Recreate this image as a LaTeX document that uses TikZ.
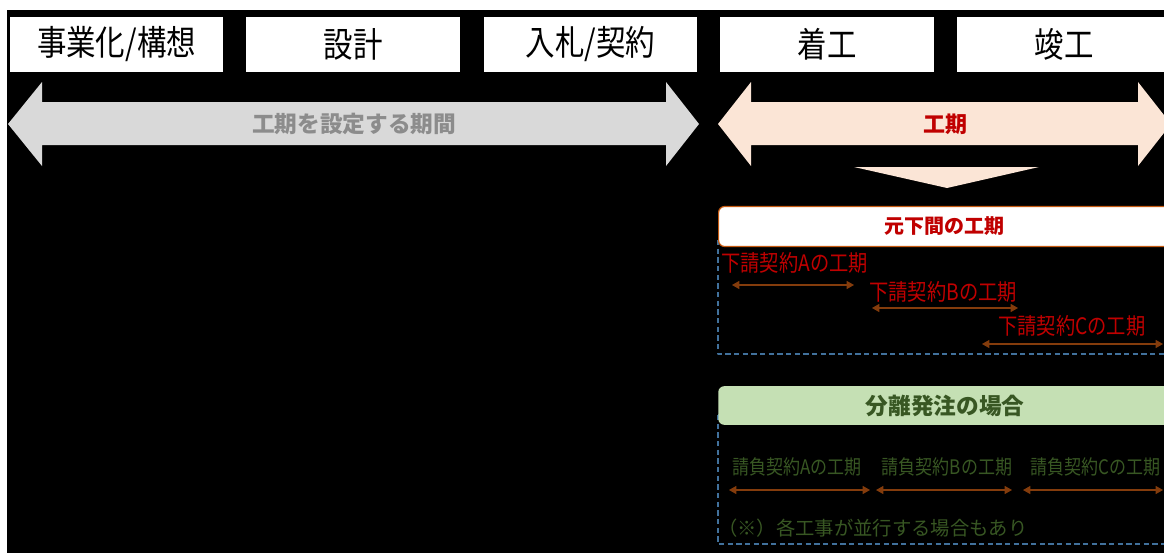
\documentclass[tikz,border=0pt]{standalone}
\usepackage{fontspec}
\setmainfont{Noto Sans CJK JP}
\newfontfamily\narrowjp{Noto Sans CJK JP}[FakeStretch=0.85]
\usetikzlibrary{arrows.meta,positioning}
\definecolor{peach}{HTML}{FBE5D6}
\definecolor{shaftgray}{HTML}{D9D9D9}
\definecolor{textgray}{HTML}{8C8C8C}
\definecolor{darkred}{HTML}{C00000}
\definecolor{rust}{HTML}{843C0C}
\definecolor{edgeorange}{HTML}{C55A11}
\definecolor{leaf}{HTML}{C5E0B4}
\definecolor{forest}{HTML}{385723}
\definecolor{dashblue}{HTML}{41719C}
\tikzset{
  phase/.style={fill=white, minimum width=160pt, minimum height=41pt, inner sep=0pt, font=\narrowjp\fontsize{26}{30}\selectfont},
  headbox/.style={rounded corners=4.5pt, minimum height=30pt, inner sep=0pt, anchor=west, font=\bfseries\fontsize{15}{18}\selectfont},
  sublabel/.style={text=darkred, inner sep=0pt, anchor=west, font=\narrowjp\fontsize{17}{20}\selectfont},
  splitlabel/.style={text=forest, inner sep=0pt, font=\narrowjp\fontsize{15}{18}\selectfont},
  period/.style={<->, rust, line width=0.9pt},
  frame/.style={dashblue, dash pattern=on 4pt off 2.5pt, line width=0.9pt}
}
\begin{document}
\begin{tikzpicture}[x=0.75pt, y=-0.75pt, line join=round, >={Triangle[length=5.5pt,width=6pt]}]
\def\xmax{1164}
\def\ymax{553}
\useasboundingbox (0,0) rectangle (\xmax,\ymax);
\clip (0,0) rectangle (\xmax,\ymax);
\fill[white] (0,0) rectangle (\xmax,\ymax);
\fill[black] (7,10) rectangle (\xmax,\ymax);
\node[phase] (plan) at (116.5,44.5) {事業化/構想};
\node[phase] (design) at (353,44.5) {設計};
\node[phase] (bid) at (590.5,44.5) {入札/契約};
\node[phase] (start) at (827,44.5) {着工};
\node[phase] (finish) at (1064,44.5) {竣工};
\fill[shaftgray] (8,124) -- (42,82) -- (42,102) -- (666,102) -- (666,82) -- (699,124) -- (666,166) -- (666,145) -- (42,145) -- (42,166) -- cycle;
\node[text=textgray, font=\bfseries\fontsize{17}{20}\selectfont] (setting) at (354,124) {工期を設定する期間};
\fill[peach] (718,124) -- (751,82) -- (751,102) -- (1138,102) -- (1138,82) -- (1171,124) -- (1138,166) -- (1138,145) -- (751,145) -- (751,166) -- cycle;
\node[text=darkred, font=\bfseries\fontsize{16.5}{20}\selectfont] (term) at (945,124) {工期};
\fill[peach] (854,167) -- (1039,167) -- (947,188) -- cycle;
\draw[frame] (718,240) rectangle (1175,354);
\draw[frame] (718,415) rectangle (1175,544);
\node[headbox, draw=edgeorange, fill=white, text=darkred, line width=0.9pt, minimum width=339pt] (prime) at (718,226.5) {元下間の工期};
\node[headbox, fill=leaf, text=forest, minimum width=340.5pt, minimum height=29pt, font=\bfseries\fontsize{17}{20}\selectfont] (split) at (718,405.5) {分離発注の場合};
\node[sublabel] (subA) at (721,263) {下請契約Aの工期};
\node[sublabel] (subB) at (869,292) {下請契約Bの工期};
\node[sublabel] (subC) at (998,326) {下請契約Cの工期};
\coordinate (subAl) at (732,285);
\coordinate (subAr) at (854,285);
\coordinate (subBl) at (872,308);
\coordinate (subBr) at (1018,308);
\coordinate (subCl) at (982,344);
\coordinate (subCr) at (1163,344);
\draw[period] (subAl) -- (subAr);
\draw[period] (subBl) -- (subBr);
\draw[period] (subCl) -- (subCr);
\node[splitlabel] (ukeA) at (797,467) {請負契約Aの工期};
\node[splitlabel] (ukeB) at (947,467) {請負契約Bの工期};
\node[splitlabel] (ukeC) at (1095.5,467) {請負契約Cの工期};
\coordinate (ukeAl) at (729,490);
\coordinate (ukeAr) at (870,490);
\coordinate (ukeBl) at (876,490);
\coordinate (ukeBr) at (1012,490);
\coordinate (ukeCl) at (1023,490);
\coordinate (ukeCr) at (1163,490);
\draw[period] (ukeAl) -- (ukeAr);
\draw[period] (ukeBl) -- (ukeBr);
\draw[period] (ukeCl) -- (ukeCr);
\node[splitlabel, anchor=west, font=\fontsize{14.5}{17}\selectfont] (note) at (718,528) {（※）各工事が並行する場合もあり};
\end{tikzpicture}
\end{document}
